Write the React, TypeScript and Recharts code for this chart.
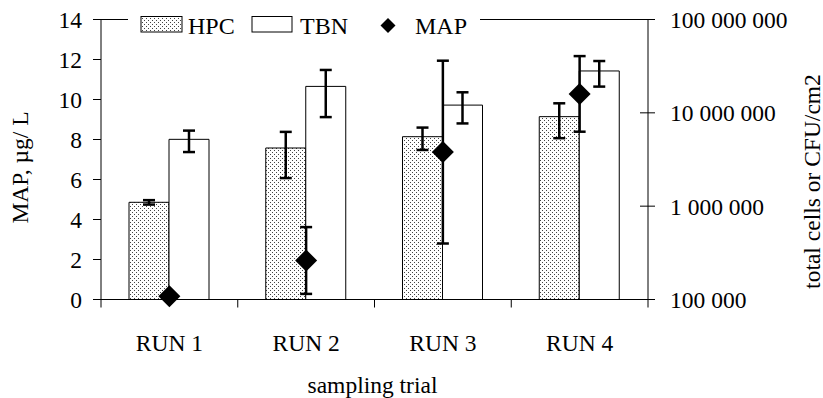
import React from 'react';
import { ComposedChart, Bar, Scatter, XAxis, YAxis, ErrorBar, ReferenceLine } from 'recharts';

// sampling runs
const runs = ['RUN 1', 'RUN 2', 'RUN 3', 'RUN 4'];

// HPC and TBN counts (right, log axis) with [down, up] errors
const hpc = [1.1e6, 4.2e6, 5.55e6, 9.1e6];
const hpcErr = [[6e4, 6e4], [2.2e6, 2.05e6], [1.55e6, 1.4e6], [3.75e6, 3.55e6]];
const tbn = [5.2e6, 19.2e6, 12.1e6, 28.1e6];
const tbnErr = [[1.4e6, 1.25e6], [10.2e6, 9.6e6], [4.4e6, 4.5e6], [9e6, 7.8e6]];

// MAP in ug/L (left axis)
const map = [0.16, 1.95, 7.37, 10.28];
const mapErr = [0, 1.67, 4.57, 1.89];

const mapTicks = [0, 2, 4, 6, 8, 10, 12, 14];
const countTicks = [1e5, 1e6, 1e7, 1e8];

const data = runs.map((run, i) => ({
  run,
  hpc: hpc[i],
  hpcErr: hpcErr[i],
  tbn: tbn[i],
  tbnErr: tbnErr[i],
  map: map[i],
  mapErr: mapErr[i],
}));

const W = 823;
const H = 398;
const PLOT_L = 101;
const PLOT_R = 648;
const PLOT_T = 19.5;
const PLOT_B = 299.5;
const BAND = (PLOT_R - PLOT_L) / runs.length;
const FONT = '"Liberation Serif", "Times New Roman", serif';
const FS = 23.5;

const fmtCount = (v: number) => String(Math.round(v)).replace(/\B(?=(\d{3})+(?!\d))/g, ' ');

const RunTick = (props: any) => {
  const { x, payload, index } = props;
  const left = x - BAND / 2;
  const right = x + BAND / 2;
  return (
    <g>
      <line x1={left} x2={left} y1={PLOT_B} y2={PLOT_B + 8} stroke="#000" />
      {index === runs.length - 1 && (
        <line x1={right} x2={right} y1={PLOT_B} y2={PLOT_B + 8} stroke="#000" />
      )}
      <text x={x} y={PLOT_B + 51} textAnchor="middle" fill="#000" fontSize={FS} fontFamily={FONT}>
        {payload.value}
      </text>
    </g>
  );
};

const CountTick = (props: any) => {
  const { x, y, payload } = props;
  return (
    <g>
      <line x1={x - 8} x2={x + 7} y1={y} y2={y} stroke="#000" />
      <text x={x + 22} y={y} dy="0.36em" textAnchor="start" fill="#000" fontSize={FS} fontFamily={FONT}>
        {fmtCount(payload.value)}
      </text>
    </g>
  );
};

const Diamond = (props: any) => {
  const { cx, cy } = props;
  const r = 11;
  return <polygon points={`${cx},${cy - r} ${cx + r},${cy} ${cx},${cy + r} ${cx - r},${cy}`} fill="#000" />;
};

export default function App() {
  return (
    <div style={{ position: 'absolute', left: 0, top: 0, width: W, height: H, background: '#fff' }}>
      <svg width={0} height={0} style={{ position: 'absolute' }}>
        <defs>
          <pattern id="hpcDots" width={4} height={4} patternUnits="userSpaceOnUse">
            <rect width={4} height={4} fill="#fff" />
            <rect x={0} y={0} width={1} height={1} fill="#444" />
            <rect x={2} y={2} width={1} height={1} fill="#444" />
          </pattern>
        </defs>
      </svg>
      <ComposedChart
        width={W}
        height={H}
        data={data}
        margin={{ top: PLOT_T, right: 25, bottom: 38.5, left: 41 }}
        barGap={0}
      >
        <XAxis
          dataKey="run"
          height={60}
          interval={0}
          tickLine={false}
          axisLine={{ stroke: '#000' }}
          tick={<RunTick />}
        />
        <YAxis
          yAxisId="left"
          width={60}
          domain={[0, 14]}
          ticks={mapTicks}
          tickSize={8}
          tickMargin={11}
          axisLine={{ stroke: '#000' }}
          tickLine={{ stroke: '#000' }}
          tick={{ fill: '#000', fontSize: FS, fontFamily: FONT }}
        />
        <YAxis
          yAxisId="right"
          orientation="right"
          width={150}
          scale="log"
          domain={[1e5, 1e8]}
          ticks={countTicks}
          allowDataOverflow
          tickSize={0}
          tickMargin={0}
          tickLine={false}
          axisLine={{ stroke: '#000' }}
          tick={<CountTick />}
        />
        <ReferenceLine yAxisId="left" y={14} stroke="#000" />
        <Bar yAxisId="right" dataKey="hpc" barSize={40} fill="url(#hpcDots)" stroke="#000" strokeWidth={1} isAnimationActive={false}>
          <ErrorBar dataKey="hpcErr" width={6} stroke="#000" strokeWidth={2.5} />
        </Bar>
        <Bar yAxisId="right" dataKey="tbn" barSize={40} fill="#fff" stroke="#000" strokeWidth={1} isAnimationActive={false}>
          <ErrorBar dataKey="tbnErr" width={6} stroke="#000" strokeWidth={2.5} />
        </Bar>
        <Scatter yAxisId="left" dataKey="map" shape={Diamond} isAnimationActive={false}>
          <ErrorBar dataKey="mapErr" direction="y" width={6} stroke="#000" strokeWidth={2.5} />
        </Scatter>
      </ComposedChart>

      <svg width={W} height={H} style={{ position: 'absolute', left: 0, top: 0, pointerEvents: 'none' }} fontFamily={FONT}>
        {/* legend */}
        <rect x={128} y={8} width={352} height={28} fill="#fff" />
        <rect x={141} y={16.5} width={41} height={15.5} fill="url(#hpcDots)" stroke="#000" />
        <text x={188} y={34} fontSize={24} fill="#000">HPC</text>
        <rect x={252} y={16.5} width={40} height={15.5} fill="#fff" stroke="#000" />
        <text x={300} y={34} fontSize={24} fill="#000">TBN</text>
        <polygon points="388,18 395.5,25.5 388,33 380.5,25.5" fill="#000" />
        <text x={415} y={34} fontSize={24} fill="#000">MAP</text>

        {/* axis titles */}
        <text x={28} y={167.5} transform="rotate(-90 28 167.5)" textAnchor="middle" fontSize={FS} fill="#000">
          MAP, µg/ L
        </text>
        <text x={819.5} y={181.5} transform="rotate(-90 819.5 181.5)" textAnchor="middle" fontSize={FS} fill="#000">
          total cells or CFU/cm2
        </text>
        <text x={372.5} y={393} textAnchor="middle" fontSize={FS} fill="#000">
          sampling trial
        </text>
      </svg>
    </div>
  );
}
